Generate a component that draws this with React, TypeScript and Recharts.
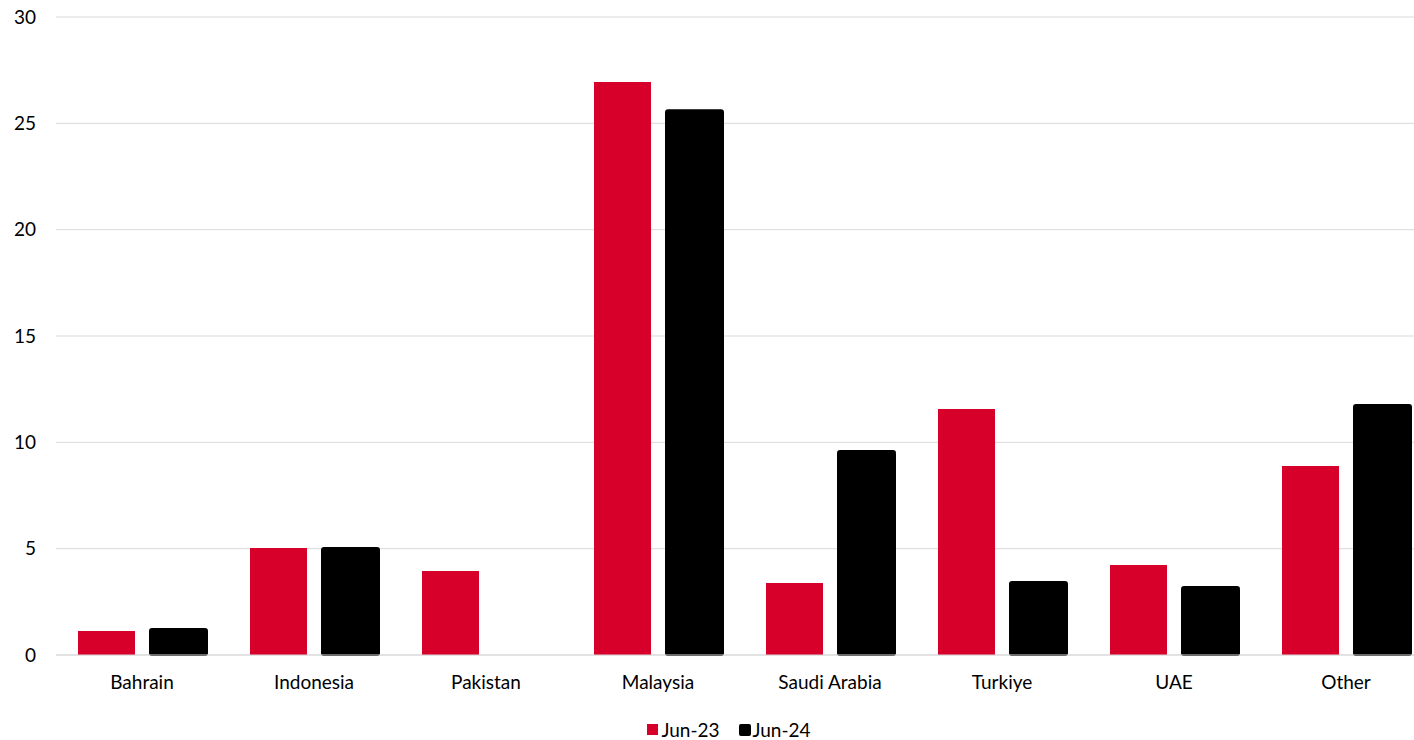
import { BarChart, Bar, XAxis, YAxis, CartesianGrid, Legend } from "recharts";

const countries = ["Bahrain", "Indonesia", "Pakistan", "Malaysia", "Saudi Arabia", "Turkiye", "UAE", "Other"];
const jun23 = [1.13, 5.03, 3.95, 26.94, 3.39, 11.57, 4.23, 8.89];
const jun24 = [1.22, 5.03, null, 25.62, 9.59, 3.43, 3.2, 11.75];
const yTicks = [0, 5, 10, 15, 20, 25, 30];

const RED = "#d6002a";
const FONT = "Lato, 'Open Sans', sans-serif";

const data = countries.map((name, i) => ({ name, jun23: jun23[i], jun24: jun24[i] }));

function LegendRow() {
  return (
    <div style={{ display: "flex", justifyContent: "center", alignItems: "center", paddingTop: 2, paddingLeft: 26, fontFamily: FONT, fontSize: 19, lineHeight: "19px", color: "#000" }}>
      <span style={{ width: 11, height: 11, background: RED, marginRight: 3 }} />
      <span style={{ marginRight: 19 }}>Jun-23</span>
      <span style={{ width: 12, height: 12, background: "#000", borderRadius: 2, marginRight: 2 }} />
      <span>Jun-24</span>
    </div>
  );
}

export default function App() {
  return (
    <div style={{ position: "absolute", left: 0, top: 0, width: 1414, height: 740, overflow: "hidden", background: "#fff" }}>
      <BarChart
        width={1440}
        height={740}
        data={data}
        margin={{ top: 17, right: 8, left: 0, bottom: 0 }}
        barCategoryGap={20}
        barGap={15}
      >
        <CartesianGrid vertical={false} stroke="#d9d9d9" />
        <XAxis
          dataKey="name"
          axisLine={{ stroke: "#d9d9d9" }}
          tickLine={false}
          tickMargin={15}
          height={63}
          tick={{ fontFamily: FONT, fontSize: 19, fill: "#000" }}
        />
        <YAxis
          domain={[0, 30]}
          ticks={yTicks}
          axisLine={false}
          tickLine={false}
          tickMargin={14}
          width={56}
          tick={{ fontFamily: FONT, fontSize: 19, fill: "#000" }}
        />
        <Legend verticalAlign="bottom" height={22} content={() => <LegendRow />} />
        <Bar dataKey="jun23" fill={RED} barSize={57} isAnimationActive={false} />
        <Bar dataKey="jun24" fill="#000" stroke="#000" strokeWidth={2} radius={2} barSize={57} isAnimationActive={false} />
      </BarChart>
    </div>
  );
}
